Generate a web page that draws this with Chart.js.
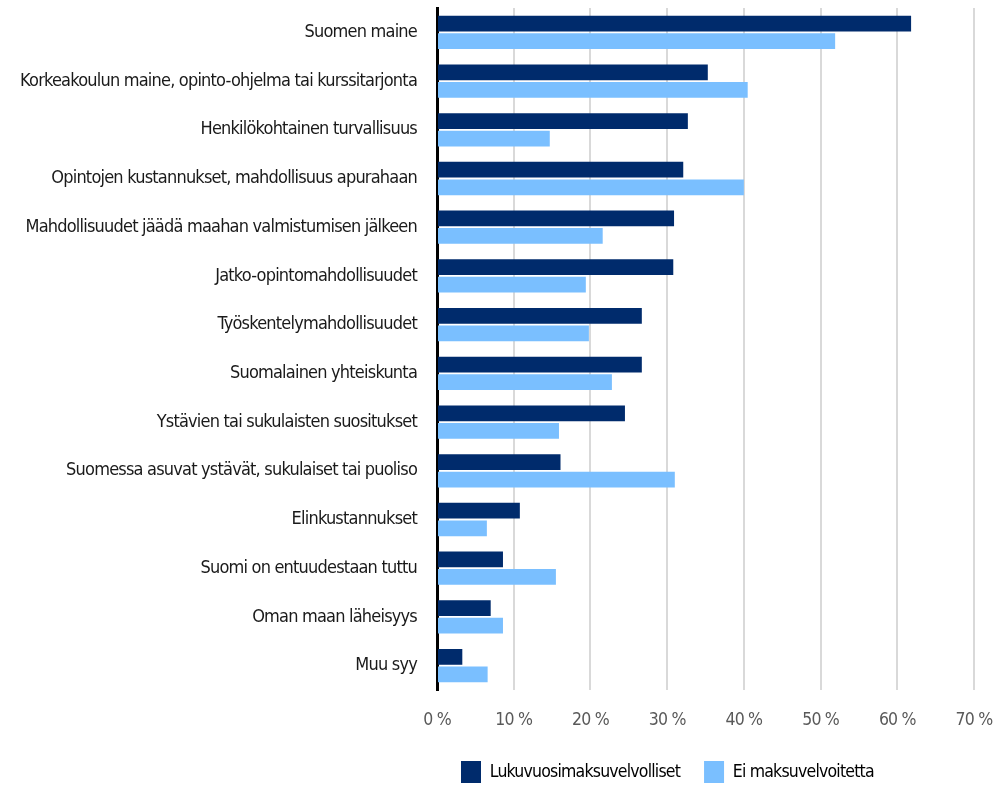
<!DOCTYPE html>
<html>
<head>
<meta charset="utf-8">
<script src="https://cdn.jsdelivr.net/npm/chart.js@4"></script>
<style>
  html, body { margin: 0; padding: 0; background: #fff; }
  #wrap { width: 996px; height: 785px; position: relative; }
</style>
</head>
<body>
<div id="wrap"><canvas id="c"></canvas></div>
<script>
const categories = [
  "Suomen maine",
  "Korkeakoulun maine, opinto-ohjelma tai kurssitarjonta",
  "Henkilökohtainen turvallisuus",
  "Opintojen kustannukset, mahdollisuus apurahaan",
  "Mahdollisuudet jäädä maahan valmistumisen jälkeen",
  "Jatko-opintomahdollisuudet",
  "Työskentelymahdollisuudet",
  "Suomalainen yhteiskunta",
  "Ystävien tai sukulaisten suositukset",
  "Suomessa asuvat ystävät, sukulaiset tai puoliso",
  "Elinkustannukset",
  "Suomi on entuudestaan tuttu",
  "Oman maan läheisyys",
  "Muu syy"
];
const seriesNames = ["Lukuvuosimaksuvelvolliset", "Ei maksuvelvoitetta"];
const lukuvuosimaksuvelvolliset = [61.8, 35.3, 32.7, 32.1, 30.9, 30.8, 26.7, 26.7, 24.5, 16.1, 10.8, 8.6, 7.0, 3.3];
const eiMaksuvelvoitetta = [51.9, 40.5, 14.7, 40.0, 21.6, 19.4, 19.8, 22.8, 15.9, 31.0, 6.5, 15.5, 8.6, 6.6];
const xTicks = [0, 10, 20, 30, 40, 50, 60, 70];

const FONT = "'Liberation Sans Narrow', 'DejaVu Sans Condensed', 'Arial Narrow', sans-serif";

const spacingPlugin = {
  id: 'spacing',
  beforeUpdate(chart) { chart.ctx.letterSpacing = '-0.8px'; },
  beforeLayout(chart) { chart.ctx.letterSpacing = '-0.8px'; },
  beforeDraw(chart) { chart.ctx.letterSpacing = '-0.8px'; }
};

new Chart(document.getElementById('c'), {
  type: 'bar',
  plugins: [spacingPlugin],
  data: {
    labels: categories,
    datasets: [
      { label: seriesNames[0], data: lukuvuosimaksuvelvolliset, backgroundColor: '#002B6C',
        barPercentage: 0.9, categoryPercentage: 0.72 },
      { label: seriesNames[1], data: eiMaksuvelvoitetta, backgroundColor: '#7ABFFF',
        barPercentage: 0.9, categoryPercentage: 0.72 }
    ]
  },
  options: {
    indexAxis: 'y',
    responsive: true,
    maintainAspectRatio: false,
    animation: false,
    layout: { padding: { top: 8, right: 22, left: 0, bottom: -8 } },
    plugins: {
      tooltip: { enabled: false },
      legend: {
        position: 'bottom',
        align: 'start',
        fullSize: false,
        labels: {
          color: '#000',
          font: { family: FONT, size: 17.5 },
          boxWidth: 20,
          boxHeight: 22,
          padding: 24,
          useBorderRadius: false
        }
      }
    },
    scales: {
      x: {
        min: 0, max: 70,
        afterBuildTicks: (axis) => { axis.ticks = xTicks.map(v => ({ value: v })); },
        afterFit: (axis) => { axis.height = 47; axis.paddingLeft = 0; axis.paddingRight = 0; },
        grid: { color: '#d9d9d9', lineWidth: 2, drawTicks: false },
        border: { display: false },
        ticks: {
          color: '#595959',
          font: { family: FONT, size: 17.5 },
          padding: 20,
          callback: (v) => v + ' %'
        }
      },
      y: {
        afterFit: (axis) => { axis.width = 437; axis.paddingTop = 0; axis.paddingBottom = 0; },
        grid: { display: false, drawTicks: false },
        border: { display: true, color: '#000', width: 3 },
        ticks: {
          color: '#1a1a1a',
          font: { family: FONT, size: 18 },
          padding: 20,
          autoSkip: false
        }
      }
    }
  }
});
</script>
</body>
</html>
